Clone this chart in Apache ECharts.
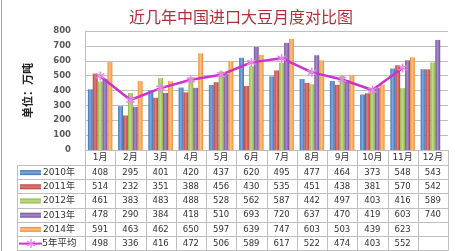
<!DOCTYPE html>
<html><head><meta charset="utf-8">
<script src="https://cdn.jsdelivr.net/npm/echarts@6/dist/echarts.min.js"></script>
<style>html,body{margin:0;padding:0;background:#fff}#c{width:459px;height:251px}</style>
</head><body><div id="c"></div>
<script>
const months = ['1月','2月','3月','4月','5月','6月','7月','8月','9月','10月','11月','12月'];
const seriesNames = ['2010年','2011年','2012年','2013年','2014年'];
const y2010 = [408,295,401,420,437,620,495,477,464,373,548,543];
const y2011 = [514,232,351,388,456,430,535,451,438,381,570,542];
const y2012 = [461,383,483,488,528,562,587,442,497,403,416,589];
const y2013 = [478,290,384,418,510,693,720,637,470,419,603,740];
const y2014 = [591,463,462,650,597,639,747,603,503,439,623,null];
const avgName = '5年平均';
const avg5 = [498,336,416,472,506,589,617,522,474,403,552,null];
const yTicks = [0,100,200,300,400,500,600,700,800];

const barData = [y2010,y2011,y2012,y2013,y2014];
const colors = ['#3F74B8','#B8403D','#8FB24A','#744F9E','#F28C2C'];
const lights = ['#7FA8DC','#E07D7A','#C2DE86','#A58CC6','#FBC28A'];
const lineColor = '#CC33CC';

const G = {left:85, right:11, top:31, bottom:101};
const W = 459, H = 251;
const plotL = G.left, plotR = W - G.right, plotB = H - G.bottom;
const colW = (plotR - plotL) / 12;
const tableL = 17;
const headerB = 165, rowH = 14.2;

function starParts(){
  const parts=[]; const L=4.5, w=0.7;
  [90,30,150].forEach(a=>{
    const r=a*Math.PI/180, dx=Math.cos(r), dy=Math.sin(r), px=-dy*w, py=dx*w;
    parts.push([[L*dx+px,L*dy+py],[L*dx-px,L*dy-py],[-L*dx-px,-L*dy-py],[-L*dx+px,-L*dy+py]]);
  });
  return parts;
}
function starPath(){
  return 'path://'+starParts().map(p=>'M'+p.map(q=>q[0].toFixed(2)+','+q[1].toFixed(2)).join('L')+'Z').join('');
}

const series = barData.map((d,i)=>({
  name: seriesNames[i], type:'bar', data:d, barGap:'0%', barCategoryGap:'19%',
  itemStyle:{color:{type:'linear',x:0,y:0,x2:1,y2:0,colorStops:[
    {offset:0,color:colors[i]},{offset:0.45,color:lights[i]},{offset:1,color:colors[i]}]}},
  z:2
}));
series.push({
  name: avgName, type:'line', data:avg5, symbol:starPath(), symbolSize:9, showAllSymbol:true,
  lineStyle:{color:lineColor,width:2.5}, itemStyle:{color:'#E58AE5'}, z:5
});

const g = [];
const lineStyle = {stroke:'#BFBFBF', lineWidth:1};
for(let r=0;r<=6;r++){
  const y = Math.round(headerB + r*rowH)+0.5;
  g.push({type:'line', shape:{x1:tableL,y1:y,x2:plotR,y2:y}, style:lineStyle, silent:true});
}
for(let c=0;c<=12;c++){
  const x = Math.round(plotL + c*colW)+0.5;
  g.push({type:'line', shape:{x1:x,y1:plotB,x2:x,y2:Math.round(headerB+6*rowH)+0.5}, style:lineStyle, silent:true});
}
g.push({type:'line', shape:{x1:tableL+0.5,y1:headerB+0.5,x2:tableL+0.5,y2:Math.round(headerB+6*rowH)+0.5}, style:lineStyle, silent:true});
g.push({type:'line', shape:{x1:1.5,y1:0,x2:1.5,y2:H}, style:{stroke:'#A6A6A6',lineWidth:1}, silent:true});
months.forEach((m,c)=>{
  g.push({type:'text', x:plotL+(c+0.5)*colW, y:(plotB+headerB)/2+0.5,
    style:{text:m, font:'9px "DejaVu Sans", "Noto Sans CJK SC"', fill:'#333', align:'center', verticalAlign:'middle'}, silent:true});
});
const rows = barData.concat([avg5]);
const rowNames = seriesNames.concat([avgName]);
rows.forEach((d,r)=>{
  const yc = headerB + (r+0.5)*rowH + 0.5;
  d.forEach((v,c)=>{
    if(v==null) return;
    g.push({type:'text', x:plotL+(c+0.5)*colW, y:yc,
      style:{text:String(v), font:'8.5px "DejaVu Sans"', fill:'#333', align:'center', verticalAlign:'middle'}, silent:true});
  });
  if(r<5){
    g.push({type:'rect', shape:{x:20,y:yc-2.5,width:21,height:5},
      style:{fill:{type:'linear',x:0,y:0,x2:0,y2:1,colorStops:[{offset:0,color:colors[r]},{offset:0.5,color:lights[r]},{offset:1,color:colors[r]}]}}, silent:true});
    g.push({type:'text', x:43, y:yc, style:{text:rowNames[r], font:'9px "DejaVu Sans", "Noto Sans CJK SC"', fill:'#333', align:'left', verticalAlign:'middle'}, silent:true});
  } else {
    g.push({type:'line', shape:{x1:19,y1:yc,x2:42,y2:yc}, style:{stroke:lineColor,lineWidth:2}, silent:true});
    starParts().forEach(p=>{
      g.push({type:'polygon', shape:{points:p}, x:31, y:yc, style:{fill:'#E58AE5'}, silent:true});
    });
    g.push({type:'text', x:42, y:yc, style:{text:rowNames[r], font:'9.5px "DejaVu Sans", "Noto Sans CJK SC"', fill:'#333', align:'left', verticalAlign:'middle'}, silent:true});
  }
});

const chart = echarts.init(document.getElementById('c'), null, {renderer:'canvas'});
chart.setOption({
  animation:false,
  backgroundColor:'#fff',
  title:{text:'近几年中国进口大豆月度对比图', left:236, textAlign:'center', top:4,
    textStyle:{color:'#B0303A', fontSize:16, fontWeight:'normal', fontFamily:'"Noto Sans CJK SC"'}},
  grid:{left:G.left, right:G.right, top:G.top, bottom:G.bottom},
  legend:{show:false},
  xAxis:{type:'category', data:months, axisLabel:{show:false}, axisTick:{show:false},
    axisLine:{lineStyle:{color:'#BFBFBF'}}},
  yAxis:{type:'value', min:yTicks[0], max:yTicks[yTicks.length-1], interval:100,
    name:'单位：万吨', nameLocation:'middle', nameGap:52, nameRotate:90,
    nameTextStyle:{fontSize:11, fontWeight:'bold', color:'#222', fontFamily:'"Noto Sans CJK SC"'},
    axisLabel:{fontSize:8.5, fontWeight:'bold', color:'#595959', margin:14, fontFamily:'"DejaVu Sans"'},
    axisLine:{show:true, lineStyle:{color:'#BFBFBF'}}, axisTick:{show:false},
    splitLine:{lineStyle:{color:'#BFBFBF'}}},
  series:series,
  graphic:g
});
</script></body></html>
